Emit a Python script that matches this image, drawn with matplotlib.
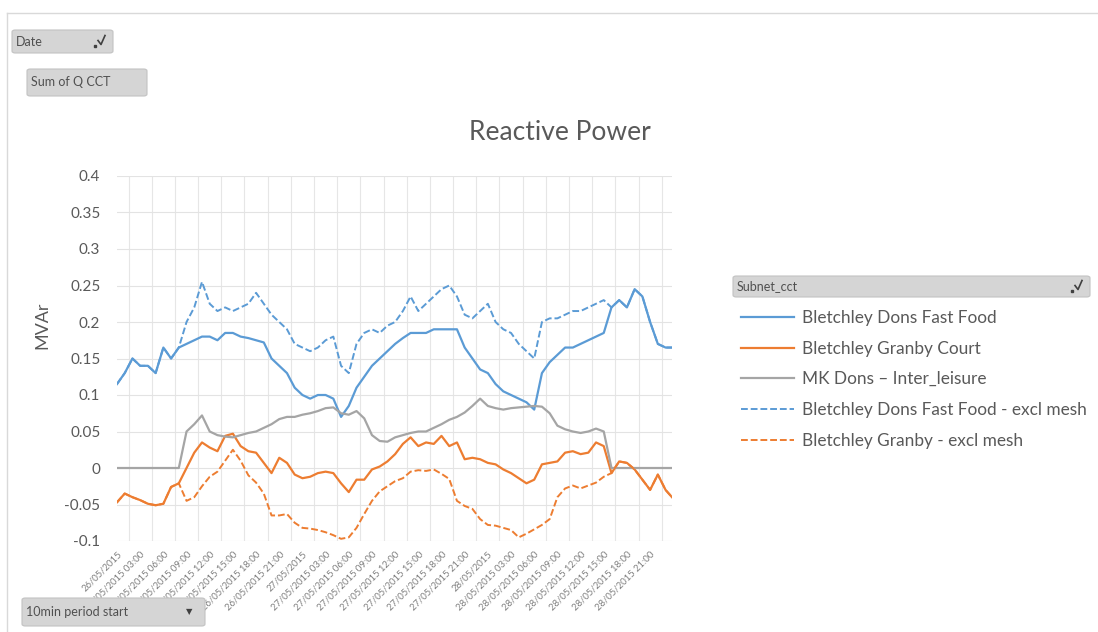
import matplotlib
matplotlib.use("Agg")
import matplotlib.pyplot as plt
from matplotlib.patches import FancyBboxPatch
from matplotlib.lines import Line2D

# hourly readings, 26/05/2015 00:00 .. 28/05/2015 24:00 (MVAr)
hours = list(range(73))

dons_fast_food = [
    0.115, 0.13, 0.15, 0.14, 0.14, 0.13, 0.165, 0.15, 0.165, 0.17, 0.175, 0.18,
    0.18, 0.175, 0.185, 0.185, 0.18, 0.178, 0.175, 0.172, 0.15, 0.14, 0.13, 0.11,
    0.1, 0.095, 0.1, 0.1, 0.095, 0.07, 0.085, 0.11, 0.125, 0.14, 0.15, 0.16,
    0.17, 0.178, 0.185, 0.185, 0.185, 0.19, 0.19, 0.19, 0.19, 0.165, 0.15, 0.135,
    0.13, 0.115, 0.105, 0.1, 0.095, 0.09, 0.08, 0.13, 0.145, 0.155, 0.165, 0.165,
    0.17, 0.175, 0.18, 0.185, 0.22, 0.23, 0.22, 0.245, 0.235, 0.2, 0.17, 0.165,
    0.165]

granby_court = [
    -0.047, -0.035, -0.04, -0.044, -0.049, -0.051, -0.049, -0.026, -0.021, 0.0, 0.021, 0.035,
    0.028, 0.023, 0.044, 0.047, 0.03, 0.023, 0.021, 0.007, -0.007, 0.014, 0.007, -0.009,
    -0.014, -0.012, -0.007, -0.005, -0.007, -0.021, -0.033, -0.016, -0.016, -0.002, 0.002, 0.009,
    0.019, 0.033, 0.042, 0.03, 0.035, 0.033, 0.044, 0.03, 0.035, 0.012, 0.014, 0.012,
    0.007, 0.005, -0.002, -0.007, -0.014, -0.021, -0.016, 0.005, 0.007, 0.009, 0.021, 0.023,
    0.019, 0.021, 0.035, 0.03, -0.007, 0.009, 0.007, -0.002, -0.016, -0.03, -0.009, -0.03,
    -0.04]

mk_dons = [
    0.0, 0.0, 0.0, 0.0, 0.0, 0.0, 0.0, 0.0, 0.0, 0.05, 0.06, 0.072,
    0.05, 0.045, 0.043, 0.042, 0.045, 0.048, 0.05, 0.055, 0.06, 0.067, 0.07, 0.07,
    0.073, 0.075, 0.078, 0.082, 0.083, 0.075, 0.073, 0.078, 0.068, 0.045, 0.037, 0.036,
    0.042, 0.045, 0.048, 0.05, 0.05, 0.055, 0.06, 0.066, 0.07, 0.076, 0.085, 0.095,
    0.085, 0.082, 0.08, 0.082, 0.083, 0.084, 0.085, 0.084, 0.075, 0.058, 0.053, 0.05,
    0.048, 0.05, 0.054, 0.05, 0.0, 0.0, 0.0, 0.0, 0.0, 0.0, 0.0, 0.0,
    0.0]

dons_excl_mesh = [
    0.115, 0.13, 0.15, 0.14, 0.14, 0.13, 0.165, 0.15, 0.165, 0.2, 0.22, 0.255,
    0.225, 0.215, 0.22, 0.215, 0.22, 0.225, 0.24, 0.225, 0.21, 0.2, 0.19, 0.17,
    0.165, 0.16, 0.165, 0.175, 0.18, 0.14, 0.13, 0.17, 0.185, 0.19, 0.185, 0.195,
    0.2, 0.215, 0.235, 0.215, 0.225, 0.235, 0.245, 0.25, 0.235, 0.21, 0.205, 0.215,
    0.225, 0.2, 0.19, 0.185, 0.17, 0.16, 0.15, 0.2, 0.205, 0.205, 0.21, 0.215,
    0.215, 0.22, 0.225, 0.23, 0.22, 0.23, 0.22, 0.245, 0.235, 0.2, 0.17, 0.165,
    0.165]

granby_excl_mesh = [
    -0.047, -0.035, -0.04, -0.044, -0.049, -0.051, -0.049, -0.026, -0.021, -0.045, -0.04, -0.025,
    -0.012, -0.005, 0.01, 0.025, 0.01, -0.01, -0.02, -0.035, -0.065, -0.065, -0.063, -0.075,
    -0.082, -0.083, -0.085, -0.088, -0.092, -0.097, -0.095, -0.082, -0.063, -0.045, -0.032, -0.025,
    -0.018, -0.014, -0.005, -0.003, -0.004, -0.002, -0.008, -0.015, -0.045, -0.052, -0.056, -0.07,
    -0.078, -0.079, -0.082, -0.085, -0.095, -0.09, -0.084, -0.078, -0.07, -0.04, -0.028, -0.024,
    -0.028, -0.024, -0.02, -0.012, -0.007, 0.009, 0.007, -0.002, -0.016, -0.03, -0.009, -0.03,
    -0.04]

series_names = ["Bletchley Dons Fast Food", "Bletchley Granby Court",
                "MK Dons \u2013 Inter_leisure", "Bletchley Dons Fast Food - excl mesh",
                "Bletchley Granby - excl mesh"]

days = ["26/05/2015", "27/05/2015", "28/05/2015"]
tick_labels = []
for d in days:
    for h in range(0, 24, 3):
        tick_labels.append(d if h == 0 else "%s %02d:00" % (d, h))

# 10-minute period index of each hourly reading
period = [min(h * 6, 431) for h in hours]

blue = "#5B9BD5"
orange = "#ED7D31"
grey = "#A5A5A5"
txt = "#595959"

plt.rcParams['font.family'] = ['Lato', 'DejaVu Sans']

W, H = 1098, 632
fig = plt.figure(figsize=(W / 100, H / 100), dpi=100)
fig.patch.set_facecolor("white")


def fx(px):
    return px / W


def fy(py):
    return 1 - py / H


ax = fig.add_axes([fx(117), fy(541), fx(672) - fx(117), fy(176) - fy(541)])

dash = (0, (3.5, 1.5))
l1, = ax.plot(period, dons_fast_food, color=blue, lw=1.6)
l2, = ax.plot(period, granby_court, color=orange, lw=1.6)
l3, = ax.plot(period, mk_dons, color=grey, lw=1.6)
l4, = ax.plot(period, dons_excl_mesh, color=blue, lw=1.4, ls=dash)
l5, = ax.plot(period, granby_excl_mesh, color=orange, lw=1.4, ls=dash)

ax.set_xlim(0, 431)
ax.set_ylim(-0.1, 0.4)
ax.set_yticks([-0.1, -0.05, 0, 0.05, 0.1, 0.15, 0.2, 0.25, 0.3, 0.35, 0.4])
ax.set_yticklabels(["-0.1", "-0.05", "0", "0.05", "0.1", "0.15", "0.2", "0.25",
                    "0.3", "0.35", "0.4"])
ax.set_xticks(list(range(0, 432, 18)))
ax.set_xticklabels(tick_labels, rotation=45, ha="right", rotation_mode="anchor",
                   fontsize=6.8, color="#7f7f7f")
ax.set_xticks(list(range(0, 432, 9)), minor=True)
ax.tick_params(axis="y", length=0, pad=12, labelsize=11, labelcolor=txt)
ax.tick_params(axis="x", which="both", length=0, pad=6)
ax.grid(True, axis="y", color="#e3e3e3", lw=0.8)
ax.grid(True, axis="x", which="minor", color="#e6e6e6", lw=0.8)
ax.set_axisbelow(True)
for s in ax.spines.values():
    s.set_visible(False)

fig.text(fx(560), fy(133), "Reactive Power", ha="center", va="center",
         fontsize=19, color=txt)
fig.text(fx(42), fy(325), "MVAr", ha="center", va="center", rotation=90,
         fontsize=13, color=txt)

# outer chart frame
fig.add_artist(Line2D([fx(7), 1], [fy(13), fy(13)], color="#d9d9d9", lw=1))
fig.add_artist(Line2D([fx(7), fx(7)], [fy(13), 0], color="#d9d9d9", lw=1))


def button(x0, y0, x1, y1, label, icon=None):
    fig.add_artist(FancyBboxPatch((fx(x0), fy(y1)), fx(x1) - fx(x0), fy(y0) - fy(y1),
                                  boxstyle="round,pad=0,rounding_size=0.003",
                                  facecolor="#d5d5d5", edgecolor="#c2c2c2", lw=0.8))
    fig.text(fx(x0 + 4), fy((y0 + y1) / 2), label, ha="left", va="center",
             fontsize=9, color="#505050")
    if icon == "filter":
        cx, cy = x1 - 12, (y0 + y1) / 2
        fig.add_artist(Line2D([fx(cx - 3), fx(cx), fx(cx + 4)],
                              [fy(cy - 1), fy(cy + 3), fy(cy - 6)], color="#404040", lw=1.2))
        fig.add_artist(Line2D([fx(cx - 6)], [fy(cy + 4)], marker="s", ms=2, color="#404040"))
    elif icon == "arrow":
        fig.text(fx(x1 - 16), fy((y0 + y1) / 2), "\u25bc", ha="center", va="center",
                 fontsize=6, color="#404040", family="DejaVu Sans")


button(12, 30, 113, 53, "Date", "filter")
button(27, 69, 147, 96, "Sum of Q CCT")
button(22, 598, 205, 626, "10min period start", "arrow")
button(733, 276, 1090, 297, "Subnet_cct", "filter")

fig.legend([l1, l2, l3, l4, l5], series_names, loc="upper left",
           bbox_to_anchor=(fx(741), fy(310)), frameon=False, fontsize=12.4,
           labelcolor=txt, handlelength=3.1, handletextpad=0.46, labelspacing=0.85,
           borderaxespad=0, borderpad=0)

fig.savefig("out.png", dpi=100, facecolor="white")
